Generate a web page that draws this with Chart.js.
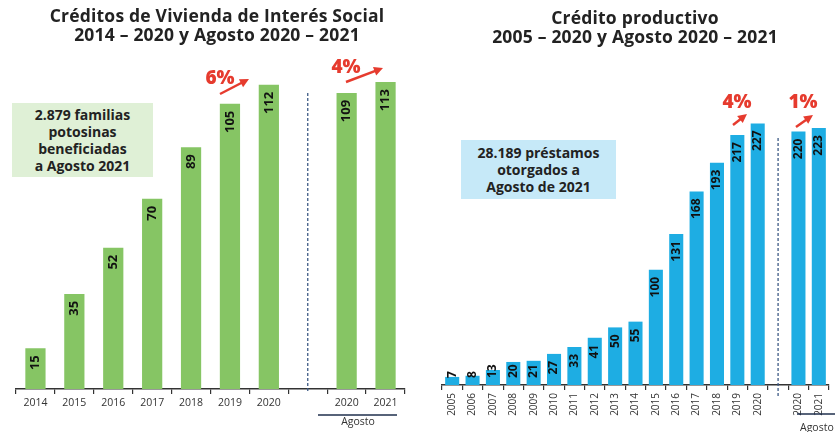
<!DOCTYPE html>
<html>
<head>
<meta charset="utf-8">
<script src="https://cdn.jsdelivr.net/npm/chart.js@4/dist/chart.umd.min.js"></script>
<style>
  body { margin: 0; width: 835px; height: 432px; position: relative; background: #fff; overflow: hidden; font-family: 'Open Sans', sans-serif; color: #222; }
  canvas { position: absolute; top: 0; }
  .title { position: absolute; text-align: center; font-weight: 700; font-size: 17.5px; line-height: 19px; white-space: nowrap; letter-spacing: 0.2px; }
  .box { position: absolute; text-align: center; font-weight: 700; font-size: 14px; line-height: 17px; display: flex; align-items: center; justify-content: center; }
</style>
</head>
<body>
<canvas id="vivienda" width="420" height="432" style="left:0;width:420px;height:432px"></canvas>
<canvas id="productivo" width="415" height="432" style="left:420px;width:415px;height:432px"></canvas>

<div class="title" style="left:17px;width:400px;top:6px">Créditos de Vivienda de Interés Social<br>2014 – 2020 y Agosto 2020 – 2021</div>
<div class="title" style="left:435px;width:400px;top:8px">Crédito productivo<br>2005 – 2020 y Agosto 2020 – 2021</div>

<div class="box" style="left:12px;top:103px;width:141px;height:74px;background:#dff0d6">2.879 familias<br>potosinas<br>beneficiadas<br>a Agosto 2021</div>
<div class="box" style="left:461px;top:140px;width:155px;height:59px;background:#c6e9f8">28.189 préstamos<br>otorgados a<br>Agosto de 2021</div>

<script>
const viviendaLabels = ['2014', '2015', '2016', '2017', '2018', '2019', '2020', '', '2020', '2021'];
const viviendaValues = [15, 35, 52, 70, 89, 105, 112, null, 109, 113];

const productivoLabels = ['2005', '2006', '2007', '2008', '2009', '2010', '2011', '2012', '2013',
  '2014', '2015', '2016', '2017', '2018', '2019', '2020', '', '2020', '2021'];
const productivoValues = [7, 8, 13, 20, 21, 27, 33, 41, 50, 55, 100, 131, 168, 193, 217, 227, null, 220, 223];

const FONT = "'Open Sans', sans-serif";
const RED = '#e63b2e';
const NAVY = '#3d5a85';

function drawArrow(ctx, x1, y1, x2, y2) {
  const ang = Math.atan2(y2 - y1, x2 - x1);
  ctx.save();
  ctx.strokeStyle = RED;
  ctx.fillStyle = RED;
  ctx.lineWidth = 2.5;
  ctx.beginPath();
  ctx.moveTo(x1, y1);
  ctx.lineTo(x2 - 6 * Math.cos(ang), y2 - 6 * Math.sin(ang));
  ctx.stroke();
  ctx.translate(x2, y2);
  ctx.rotate(ang);
  ctx.beginPath();
  ctx.moveTo(0, 0);
  ctx.lineTo(-9, -4.5);
  ctx.lineTo(-9, 4.5);
  ctx.closePath();
  ctx.fill();
  ctx.restore();
}

function drawPct(ctx, text, x, y) {
  ctx.save();
  ctx.fillStyle = RED;
  ctx.font = `800 19px ${FONT}`;
  ctx.textAlign = 'center';
  ctx.textBaseline = 'middle';
  ctx.fillText(text, x, y);
  ctx.restore();
}

// value labels, rotated, near the top of each bar
const barLabels = {
  id: 'barLabels',
  afterDatasetsDraw(chart, args, opts) {
    const ctx = chart.ctx;
    const ds = chart.data.datasets[0];
    const base = chart.scales.y.getPixelForValue(0);
    chart.getDatasetMeta(0).data.forEach((bar, i) => {
      const v = ds.data[i];
      if (v == null) return;
      ctx.save();
      ctx.font = `700 ${opts.size}px ${FONT}`;
      const w = ctx.measureText(String(v)).width;
      let top = bar.y + opts.gap;
      if (top + w > base - 7) top = base - 7 - w;
      ctx.translate(bar.x, top);
      ctx.rotate(-Math.PI / 2);
      ctx.fillStyle = '#111';
      ctx.textAlign = 'right';
      ctx.textBaseline = 'middle';
      ctx.fillText(String(v), 0, 0);
      ctx.restore();
    });
  }
};

// dashed separator, growth arrows and the "Agosto" bracket
function extrasPlugin(cfg) {
  return {
    id: 'extras',
    afterDraw(chart) {
      const ctx = chart.ctx;
      const x = chart.scales.x;
      const sepX = x.getPixelForTick(cfg.sepIndex);
      ctx.save();
      ctx.strokeStyle = NAVY;
      ctx.lineWidth = 1.3;
      ctx.setLineDash([3, 2]);
      ctx.beginPath();
      ctx.moveTo(sepX, cfg.sepTop);
      ctx.lineTo(sepX, cfg.sepBottom);
      ctx.stroke();
      ctx.restore();

      cfg.arrows.forEach(a => {
        drawPct(ctx, a.text, a.tx, a.ty);
        drawArrow(ctx, a.x1, a.y1, a.x2, a.y2);
      });

      ctx.save();
      ctx.strokeStyle = '#1f2f4d';
      ctx.lineWidth = 1.3;
      ctx.beginPath();
      ctx.moveTo(cfg.agosto.x1, cfg.agosto.y);
      ctx.lineTo(cfg.agosto.x2, cfg.agosto.y);
      ctx.stroke();
      ctx.fillStyle = '#333';
      ctx.font = `10.5px ${FONT}`;
      ctx.textAlign = cfg.agosto.align;
      ctx.textBaseline = 'middle';
      ctx.fillText('Agosto', cfg.agosto.tx, cfg.agosto.ty);
      ctx.restore();
    }
  };
}

function axisX(height, rotation, size) {
  return {
    grid: { drawOnChartArea: false, drawTicks: true, tickLength: 5, color: '#333', lineWidth: 1.2 },
    border: { display: true, color: '#333', width: 1.5 },
    ticks: { font: { family: FONT, size: size }, color: '#333', autoSkip: false,
      minRotation: rotation, maxRotation: rotation, padding: 3 },
    afterFit(scale) { scale.height = height; }
  };
}

new Chart(document.getElementById('vivienda'), {
  type: 'bar',
  data: {
    labels: viviendaLabels,
    datasets: [{
      data: viviendaValues,
      backgroundColor: '#86c564',
      barPercentage: 0.52,
      categoryPercentage: 1
    }]
  },
  options: {
    responsive: false,
    animation: false,
    layout: { padding: { left: 16, right: 15, top: 63, bottom: 0 } },
    plugins: {
      legend: { display: false },
      tooltip: { enabled: false },
      barLabels: { size: 13, gap: 7 }
    },
    scales: {
      y: { display: false, min: 0, max: 120 },
      x: axisX(43, 0, 10.5)
    }
  },
  plugins: [barLabels, extrasPlugin({
    sepIndex: 7, sepTop: 93, sepBottom: 392,
    arrows: [
      { text: '6%', tx: 220, ty: 79, x1: 220, y1: 94, x2: 249, y2: 79 },
      { text: '4%', tx: 346, ty: 68, x1: 346, y1: 82, x2: 383, y2: 68 }
    ],
    agosto: { x1: 318, x2: 397, y: 415, tx: 358, ty: 422, align: 'center' }
  })]
});

new Chart(document.getElementById('productivo'), {
  type: 'bar',
  data: {
    labels: productivoLabels,
    datasets: [{
      data: productivoValues,
      backgroundColor: '#1eade3',
      barPercentage: 0.69,
      categoryPercentage: 1
    }]
  },
  options: {
    responsive: false,
    animation: false,
    layout: { padding: { left: 22, right: 6, top: 97, bottom: 0 } },
    plugins: {
      legend: { display: false },
      tooltip: { enabled: false },
      barLabels: { size: 12, gap: 7 }
    },
    scales: {
      y: { display: false, min: 0, max: 250 },
      x: axisX(47, 90, 10)
    }
  },
  plugins: [barLabels, extrasPlugin({
    sepIndex: 16, sepTop: 138, sepBottom: 398,
    arrows: [
      { text: '4%', tx: 317, ty: 103, x1: 313, y1: 125, x2: 327, y2: 114 },
      { text: '1%', tx: 383, ty: 103, x1: 376, y1: 127, x2: 393, y2: 115 }
    ],
    agosto: { x1: 377, x2: 415, y: 414, tx: 380, ty: 428, align: 'left' }
  })]
});
</script>
</body>
</html>
